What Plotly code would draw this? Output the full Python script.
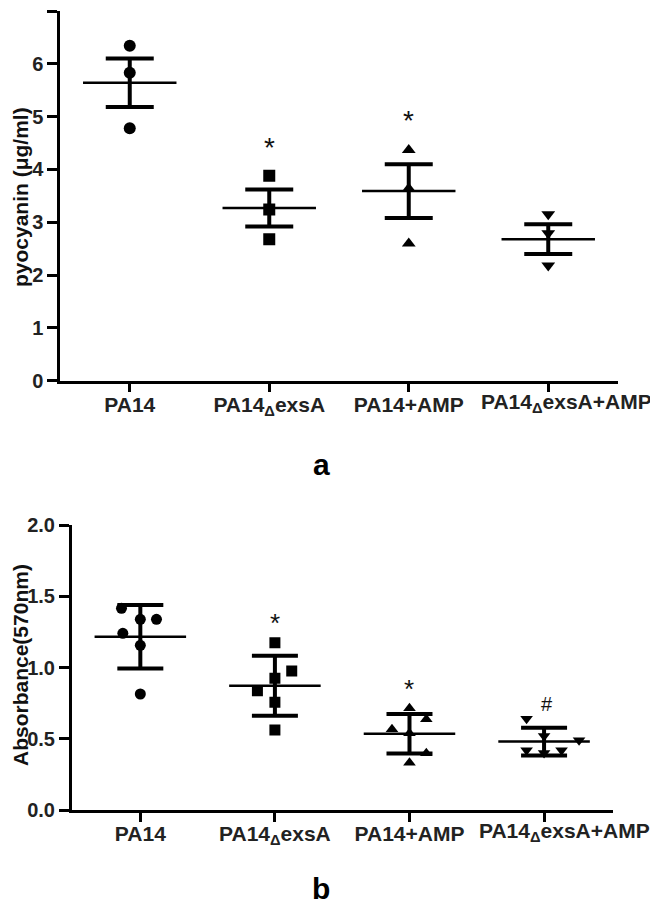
import plotly.graph_objects as go

# ---------------- data ----------------
groups = ["PA14", "PA14<sub>Δ</sub>exsA", "PA14+AMP", "PA14<sub>Δ</sub>exsA+AMP"]
symbols = ["circle", "square", "triangle-up", "triangle-down"]

# panel a: pyocyanin (µg/ml), three replicates per group
a_pa14 = [6.34, 5.83, 4.78]
a_dexsa = [3.88, 3.24, 2.68]
a_amp = [4.37, 3.64, 2.60]
a_dexsa_amp = [3.15, 2.79, 2.18]
a_mean = [5.64, 3.27, 3.59, 2.68]
a_err = [0.46, 0.35, 0.51, 0.28]
a_marks = ["", "*", "*", ""]
a_mark_y = [None, 4.50, 5.01, None]

# panel b: Absorbance (570nm), six replicates per group
b_pa14 = [1.415, 1.338, 1.338, 1.24, 1.156, 0.814]
b_dexsa = [1.174, 0.975, 0.924, 0.837, 0.756, 0.561]
b_amp = [0.714, 0.636, 0.566, 0.538, 0.398, 0.332]
b_dexsa_amp = [0.64, 0.52, 0.49, 0.42, 0.40, 0.42]
b_mean = [1.216, 0.872, 0.535, 0.480]
b_err = [0.223, 0.21, 0.138, 0.097]
b_marks = ["", "*", "*", "#"]
b_mark_y = [None, 1.34, 0.877, 0.75]

# horizontal dodge of overlapping points (category units)
b_pa14_dx = [-0.14, 0, 0.12, -0.13, 0, 0]
b_dexsa_dx = [0, 0.125, 0, -0.13, 0, 0]
b_amp_dx = [0, 0.125, -0.13, 0, 0.125, 0]
b_dexsa_amp_dx = [-0.13, 0, 0.26, -0.13, 0, 0.13]

a_values = [a_pa14, a_dexsa, a_amp, a_dexsa_amp]
b_values = [b_pa14, b_dexsa, b_amp, b_dexsa_amp]
b_dx = [b_pa14_dx, b_dexsa_dx, b_amp_dx, b_dexsa_amp_dx]

FONT = "Arial, 'Liberation Sans', sans-serif"
OFF = 8                      # page body margin of the html page
W, H = 658 - OFF, 905 - OFF  # figure size so it ends at the window edge


def px(x):
    return (x - OFF) / W


def py(y):
    return 1 - (y - OFF) / H


# the last category label sits a little right of its tick (as in the source)
tick_text = groups[:3] + [""]

fig = go.Figure()


def add_panel(values, dxs, means, errs, xa, ya, msize, cap_half, mean_half):
    for i, vals in enumerate(values):
        xs = [i + (dxs[i][k] if dxs else 0) for k in range(len(vals))]
        fig.add_trace(go.Scatter(
            x=xs, y=vals, mode="markers", xaxis=xa, yaxis=ya,
            marker=dict(symbol=symbols[i], size=msize, color="black",
                        line=dict(width=0)),
            showlegend=False, hoverinfo="skip"))
    # error bars
    fig.add_trace(go.Scatter(
        x=list(range(len(means))), y=means, mode="markers", xaxis=xa, yaxis=ya,
        marker=dict(size=1, color="rgba(0,0,0,0)"),
        error_y=dict(type="data", array=errs, visible=True, color="black",
                     thickness=4, width=cap_half),
        showlegend=False, hoverinfo="skip"))
    # mean lines
    mx, my = [], []
    for i, m in enumerate(means):
        mx += [i - mean_half, i + mean_half, None]
        my += [m, m, None]
    fig.add_trace(go.Scatter(
        x=mx, y=my, mode="lines", xaxis=xa, yaxis=ya,
        line=dict(color="black", width=2.5),
        showlegend=False, hoverinfo="skip"))


add_panel(a_values, None, a_mean, a_err, "x", "y", 12, 24, 0.335)
add_panel(b_values, b_dx, b_mean, b_err, "x2", "y2", 11, 23, 0.34)

# significance marks
for i, (t, yv) in enumerate(zip(a_marks, a_mark_y)):
    if t:
        fig.add_annotation(x=i, y=yv, xref="x", yref="y", text=t, showarrow=False,
                           font=dict(family=FONT, size=28, color="#111"),
                           yanchor="middle", yshift=-4)
for i, (t, yv) in enumerate(zip(b_marks, b_mark_y)):
    if t:
        xoff = 0.0 if t != "#" else 0.02
        fig.add_annotation(x=i + xoff, y=yv, xref="x2", yref="y2", text=t, showarrow=False,
                           font=dict(family=FONT, size=26 if t == "*" else 20, color="#111"),
                           yanchor="middle", yshift=-4 if t == "*" else -1)

axis_common = dict(showline=True, linecolor="black", linewidth=2.5, ticks="outside",
                   tickcolor="black", tickwidth=2.5, showgrid=False, zeroline=False,
                   mirror=False, automargin=False)

tickfont_x = dict(family=FONT, size=21, color="#222", weight="bold")
tickfont_y = dict(family=FONT, size=20, color="#222", weight="bold")

fig.update_layout(
    width=W, height=H, margin=dict(l=0, r=0, t=0, b=0),
    paper_bgcolor="white", plot_bgcolor="white",
    xaxis=dict(domain=[px(60), px(618)], range=[-0.5, 3.5], tickvals=[0, 1, 2, 3],
               ticktext=tick_text, tickangle=0, ticklen=9, tickfont=tickfont_x,
               ticklabelstandoff=-6, anchor="y", **axis_common),
    yaxis=dict(domain=[py(380.7), py(11)], range=[0, 7], tickvals=list(range(8)),
               ticklen=10, tickfont=tickfont_y, anchor="x", **axis_common),
    xaxis2=dict(domain=[px(71.7), px(612.7)], range=[-0.51, 3.51], tickvals=[0, 1, 2, 3],
                ticktext=tick_text, tickangle=0, ticklen=9, tickfont=tickfont_x,
                ticklabelstandoff=-6, anchor="y2", **axis_common),
    yaxis2=dict(domain=[py(810), py(525)], range=[0, 2.0],
                tickvals=[0, 0.5, 1.0, 1.5, 2.0], ticktext=["0.0", "0.5", "1.0", "1.5", "2.0"],
                ticklen=10, tickfont=tickfont_y, anchor="x2", **axis_common),
)

# last category label of each panel
fig.add_annotation(x=3, y=py(402.7), xref="x", yref="paper", text=groups[3],
                   xanchor="center", yanchor="middle", xshift=18, showarrow=False,
                   font=tickfont_x)
fig.add_annotation(x=3, y=py(831.7), xref="x2", yref="paper", text=groups[3],
                   xanchor="center", yanchor="middle", xshift=20, showarrow=False,
                   font=tickfont_x)

# axis titles
fig.add_annotation(x=px(21), y=py(197), xref="paper", yref="paper",
                   xanchor="center", yanchor="middle",
                   text="pyocyanin (μg/ml)", textangle=-90, showarrow=False,
                   font=dict(family=FONT, size=21, color="#111", weight="bold"))
fig.add_annotation(x=px(20), y=py(665), xref="paper", yref="paper",
                   xanchor="center", yanchor="middle",
                   text="Absorbance(570nm)", textangle=-90, showarrow=False,
                   font=dict(family=FONT, size=21, color="#111", weight="bold"))

# panel letters
fig.add_annotation(x=px(321), y=py(464), xref="paper", yref="paper", text="a",
                   xanchor="center", yanchor="middle", showarrow=False,
                   font=dict(family=FONT, size=30, color="black", weight="bold"))
fig.add_annotation(x=px(321), y=py(888), xref="paper", yref="paper", text="b",
                   xanchor="center", yanchor="middle", showarrow=False,
                   font=dict(family=FONT, size=30, color="black", weight="bold"))

fig.write_html("out.html")
